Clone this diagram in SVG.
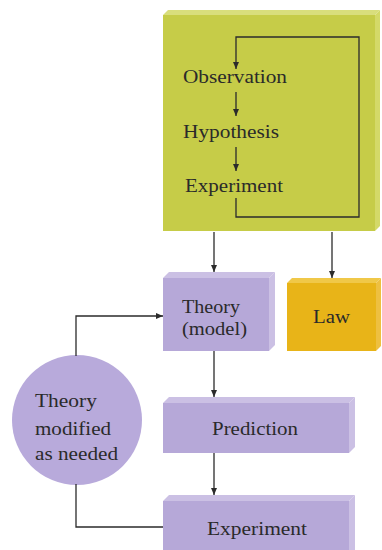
<svg xmlns="http://www.w3.org/2000/svg" width="382" height="550" viewBox="0 0 382 550">
<defs>
<marker id="ah" markerUnits="userSpaceOnUse" markerWidth="8" markerHeight="8" viewBox="0 0 8 8" refX="7" refY="4" orient="auto">
<path d="M0,1 L7,4 L0,7 Z" fill="#2b2b2b"/>
</marker>
</defs>
<style>
text{font-family:"Liberation Serif","Times New Roman",serif;fill:#2a2a2a;}
.t{font-size:18.5px;}
.c{fill:none;stroke:#2b2b2b;stroke-width:1.3;}
.pf{fill:#b6a8d8;}
.ps{fill:#cbc0e4;}
</style>
<rect width="382" height="550" fill="#ffffff"/>
<g id="science-box">
<polygon points="163,15 168,10 380,10 375,15" fill="#d9de7c"/>
<polygon points="375,15 380,10 380,226 375,231" fill="#d4d968"/>
<rect x="163" y="15" width="212" height="216" fill="#c6cc48"/>
<text class="t" x="183" y="83" textLength="104" lengthAdjust="spacingAndGlyphs">Observation</text>
<text class="t" x="183" y="138" textLength="96" lengthAdjust="spacingAndGlyphs">Hypothesis</text>
<text class="t" x="185" y="192" textLength="98" lengthAdjust="spacingAndGlyphs">Experiment</text>
</g>
<g id="theory">
<polygon points="163,278 169,272 275,272 269,278" class="ps"/>
<polygon points="269,278 275,272 275,345 269,351" class="ps"/>
<rect x="163" y="278" width="106" height="73" class="pf"/>
<text class="t" x="182" y="313" textLength="58" lengthAdjust="spacingAndGlyphs">Theory</text>
<text class="t" x="182" y="335" textLength="65" lengthAdjust="spacingAndGlyphs">(model)</text>
</g>
<g id="law">
<polygon points="287,283 292,278 381,278 376,283" fill="#f0c848"/>
<polygon points="376,283 381,278 381,346 376,351" fill="#eec040"/>
<rect x="287" y="283" width="89" height="68" fill="#e8b418"/>
<text class="t" x="313" y="323" textLength="37" lengthAdjust="spacingAndGlyphs">Law</text>
</g>
<g id="circle">
<circle cx="77" cy="420" r="65" fill="#b8aadb"/>
<text class="t" x="35" y="407" textLength="62" lengthAdjust="spacingAndGlyphs">Theory</text>
<text class="t" x="35" y="435" textLength="76" lengthAdjust="spacingAndGlyphs">modified</text>
<text class="t" x="35" y="460" textLength="83" lengthAdjust="spacingAndGlyphs">as needed</text>
</g>
<g id="prediction">
<polygon points="163,403 169,397 355,397 349,403" class="ps"/>
<polygon points="349,403 355,397 355,447 349,453" class="ps"/>
<rect x="163" y="403" width="186" height="50" class="pf"/>
<text class="t" x="212" y="435" textLength="86" lengthAdjust="spacingAndGlyphs">Prediction</text>
</g>
<g id="experiment">
<polygon points="163,501 169,495 355,495 349,501" class="ps"/>
<polygon points="349,501 355,495 355,550 349,550" class="ps"/>
<rect x="163" y="501" width="186" height="49" class="pf"/>
<text class="t" x="207" y="535" textLength="100" lengthAdjust="spacingAndGlyphs">Experiment</text>
</g>
<g id="connectors">
<path class="c" d="M236,198 V217 H359 V37 H236 V69" marker-end="url(#ah)"/>
<path class="c" d="M236,92 V116" marker-end="url(#ah)"/>
<path class="c" d="M236,147 V171" marker-end="url(#ah)"/>
<path class="c" d="M214,232 V272" marker-end="url(#ah)"/>
<path class="c" d="M332,232 V278" marker-end="url(#ah)"/>
<path class="c" d="M214,351 V397" marker-end="url(#ah)"/>
<path class="c" d="M214,453 V495" marker-end="url(#ah)"/>
<path class="c" d="M76,356 V316 H163" marker-end="url(#ah)"/>
<path class="c" d="M76,484 V527 H163"/>
</g>
</svg>
